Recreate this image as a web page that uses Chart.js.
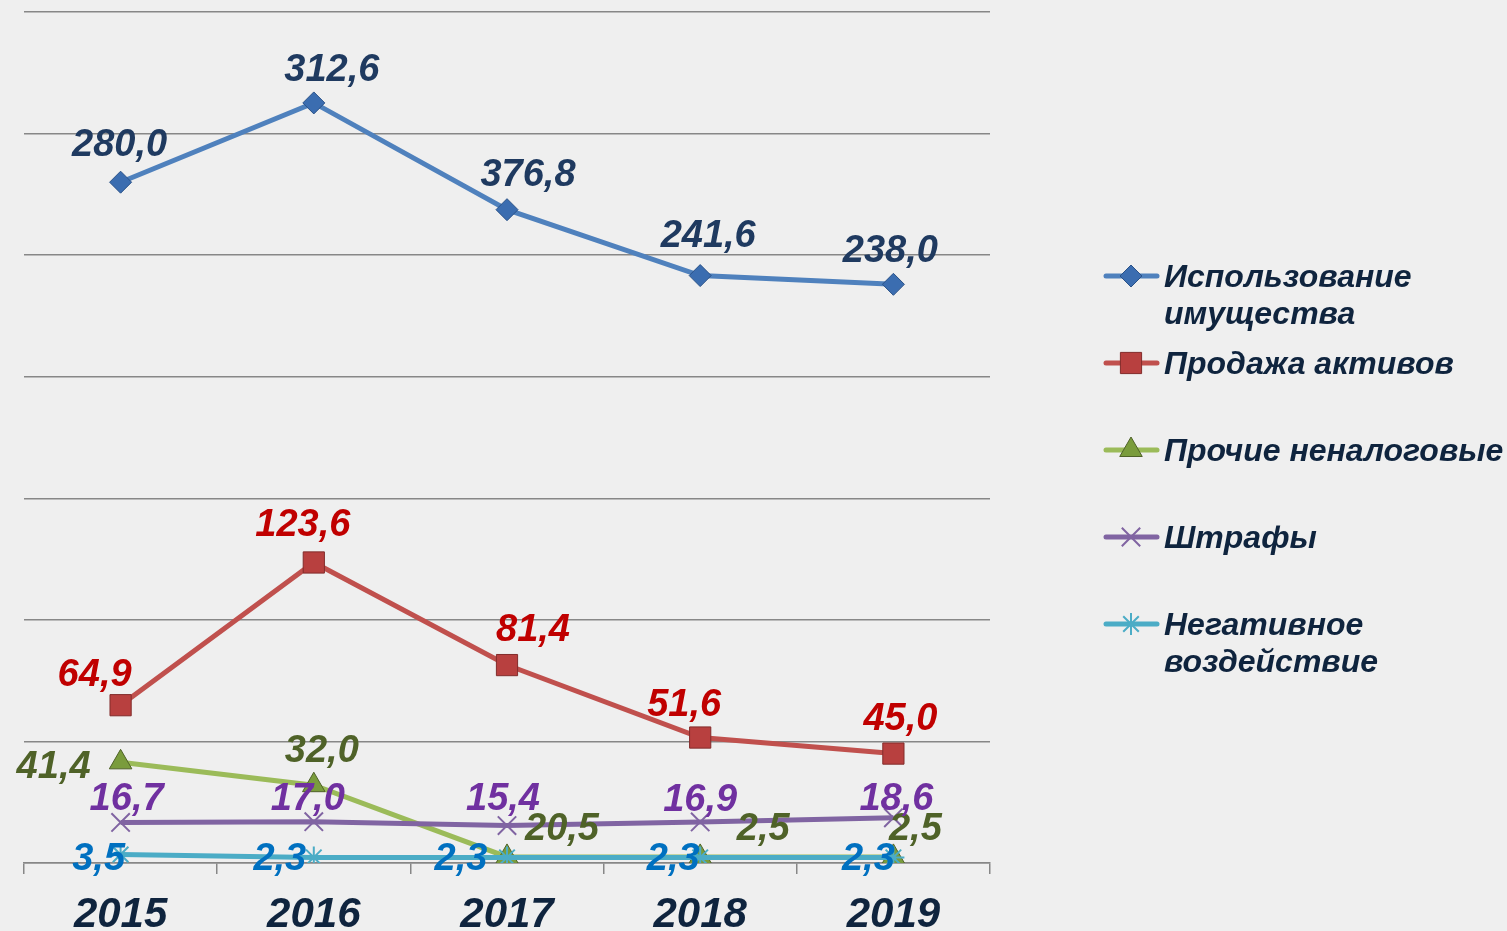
<!DOCTYPE html>
<html>
<head>
<meta charset="utf-8">
<script src="https://cdn.jsdelivr.net/npm/chart.js@4.4.1/dist/chart.umd.min.js"></script>
<style>
  html, body { margin: 0; padding: 0; background: #efefef; overflow: hidden; }
  #wrap { width: 1507px; height: 931px; }
</style>
</head>
<body>
<div id="wrap"><canvas id="chartNenalog" width="1507" height="931"></canvas></div>
<script>
// ---------- DATA
var years = ['2015', '2016', '2017', '2018', '2019'];

var seriesNames = [
  ['Использование', 'имущества'],
  ['Продажа активов'],
  ['Прочие неналоговые'],
  ['Штрафы'],
  ['Негативное', 'воздействие']
];

// values as plotted in the picture
var imushchestvo = [280.0, 312.6, 268.7, 241.6, 238.0];
var aktivy       = [64.9, 123.6, 81.4, 51.6, 45.0];
var prochie      = [41.4, 32.0, 2.5, 2.5, 2.5];
var shtrafy      = [16.7, 17.0, 15.4, 16.9, 18.6];
var negativ      = [3.5, 2.3, 2.3, 2.3, 2.3];

// value labels as printed on the chart
var imushchestvoLbl = ['280,0', '312,6', '376,8', '241,6', '238,0'];
var aktivyLbl       = ['64,9', '123,6', '81,4', '51,6', '45,0'];
var prochieLbl      = ['41,4', '32,0', '20,5', '2,5', '2,5'];
var shtrafyLbl      = ['16,7', '17,0', '15,4', '16,9', '18,6'];
var negativLbl      = ['3,5', '2,3', '2,3', '2,3', '2,3'];

// ---------- LABEL PLACEMENT (pixel nudges from the point, label centre)
var nudgeBlue   = [[-1,-40],[18,-36],[21,-37],[8,-42],[-3,-36]];
var nudgeRed    = [[-26,-33],[-11,-40],[26,-38],[-16,-35],[7,-37]];
var nudgeGreen  = [[-67,2],[8,-37],[55,-31],[63,-31],[22,-31]];
var nudgePurple = [[6,-26],[-6,-25],[-4,-29],[0,-25],[3,-21]];
var nudgeCyan   = [[-22,2],[-34,-1],[-46,-1],[-27,-1],[-25,-1]];

var FONT = '"Liberation Sans", Arial, sans-serif';

function makeSet(idx, values, lbls, nudge, color, lblColor, style, radius, fill, border, bw){
  return {
    label: seriesNames[idx].join(' '),
    data: values,
    borderColor: color,
    borderWidth: 5,
    pointStyle: style,
    pointRadius: radius,
    pointBackgroundColor: fill,
    pointBorderColor: border,
    pointBorderWidth: bw,
    tension: 0,
    order: 4 - idx,
    lblText: lbls,
    lblNudge: nudge,
    lblColor: lblColor
  };
}

// ---------- PLUGINS
var bgPlugin = {
  id: 'bgFill',
  beforeDraw: function(chart){
    var ctx = chart.ctx;
    ctx.save();
    ctx.fillStyle = '#efefef';
    ctx.fillRect(0, 0, chart.width, chart.height);
    ctx.restore();
  }
};

var valueLabels = {
  id: 'valueLabels',
  afterDatasetsDraw: function(chart){
    var ctx = chart.ctx;
    var size = 38;
    chart.data.datasets.forEach(function(ds, i){
      var meta = chart.getDatasetMeta(i);
      ctx.save();
      ctx.font = 'italic bold ' + size + 'px ' + FONT;
      ctx.fillStyle = ds.lblColor;
      ctx.textAlign = 'center';
      ctx.textBaseline = 'alphabetic';
      meta.data.forEach(function(pt, j){
        var n = ds.lblNudge[j];
        ctx.fillText(ds.lblText[j], pt.x + n[0], pt.y + n[1] + size * 0.358);
      });
      ctx.restore();
    });
  }
};

var sideLegend = {
  id: 'sideLegend',
  afterDraw: function(chart){
    var ctx = chart.ctx;
    var rowsY = [276, 363, 450, 537, 624];
    var size = 32;
    chart.data.datasets.forEach(function(ds, i){
      var y = rowsY[i];
      ctx.save();
      ctx.strokeStyle = ds.borderColor;
      ctx.lineWidth = 5;
      ctx.lineCap = 'round';
      ctx.beginPath();
      ctx.moveTo(1106, y);
      ctx.lineTo(1157, y);
      ctx.stroke();
      ctx.fillStyle = ds.pointBackgroundColor;
      ctx.strokeStyle = ds.pointBorderColor;
      ctx.lineWidth = ds.pointBorderWidth;
      ctx.lineCap = 'butt';
      Chart.helpers.drawPoint(ctx, {
        pointStyle: ds.pointStyle,
        radius: ds.pointRadius,
        rotation: 0,
        borderWidth: ds.pointBorderWidth
      }, 1131, y);
      ctx.font = 'italic bold ' + size + 'px ' + FONT;
      ctx.fillStyle = '#0f243e';
      ctx.textAlign = 'left';
      ctx.textBaseline = 'alphabetic';
      seriesNames[i].forEach(function(t, k){
        ctx.fillText(t, 1164, y + k * 37 + size * 0.358);
      });
      ctx.restore();
    });
  }
};

// ---------- CHART
var ctx = document.getElementById('chartNenalog').getContext('2d');
var chartNenalog = new Chart(ctx, {
  type: 'line',
  data: {
    labels: years,
    datasets: [
      makeSet(0, imushchestvo, imushchestvoLbl, nudgeBlue,   '#4f81bd', '#1f3a60', 'rectRot',  11, '#3b6db0', '#2a5288', 1),
      makeSet(1, aktivy,       aktivyLbl,       nudgeRed,    '#c0504d', '#c00000', 'rect',     15, '#b8403f', '#822c2b', 1),
      makeSet(2, prochie,      prochieLbl,      nudgeGreen,  '#9bbb59', '#4f6228', 'triangle', 13, '#7a9c3c', '#4f6228', 1),
      makeSet(3, shtrafy,      shtrafyLbl,      nudgePurple, '#8064a2', '#7030a0', 'crossRot', 13, '#8064a2', '#8064a2', 2),
      makeSet(4, negativ,      negativLbl,      nudgeCyan,   '#4bacc6', '#0070c0', 'star',     11, '#4bacc6', '#4bacc6', 2)
    ]
  },
  options: {
    responsive: false,
    animation: false,
    events: [],
    layout: { autoPadding: false, padding: { left: 24, right: 517, top: 12, bottom: 0 } },
    plugins: {
      legend: { display: false },
      tooltip: { enabled: false }
    },
    scales: {
      x: {
        offset: true,
        grid: {
          offset: true,
          drawOnChartArea: false,
          drawTicks: true,
          tickLength: 11,
          color: '#878787',
          lineWidth: 1.5
        },
        border: { display: true, color: '#878787', width: 1.5 },
        ticks: {
          color: '#0f243e',
          padding: 16,
          font: { family: FONT, size: 42, style: 'italic', weight: 'bold' }
        },
        afterFit: function(scale){ scale.height = 68; }
      },
      y: {
        min: 0,
        max: 350,
        ticks: { display: false, stepSize: 50 },
        grid: { color: '#878787', lineWidth: 1.5, drawTicks: false },
        border: { display: false },
        afterFit: function(scale){ scale.width = 0; }
      }
    }
  },
  plugins: [bgPlugin, valueLabels, sideLegend]
});
</script>
</body>
</html>
